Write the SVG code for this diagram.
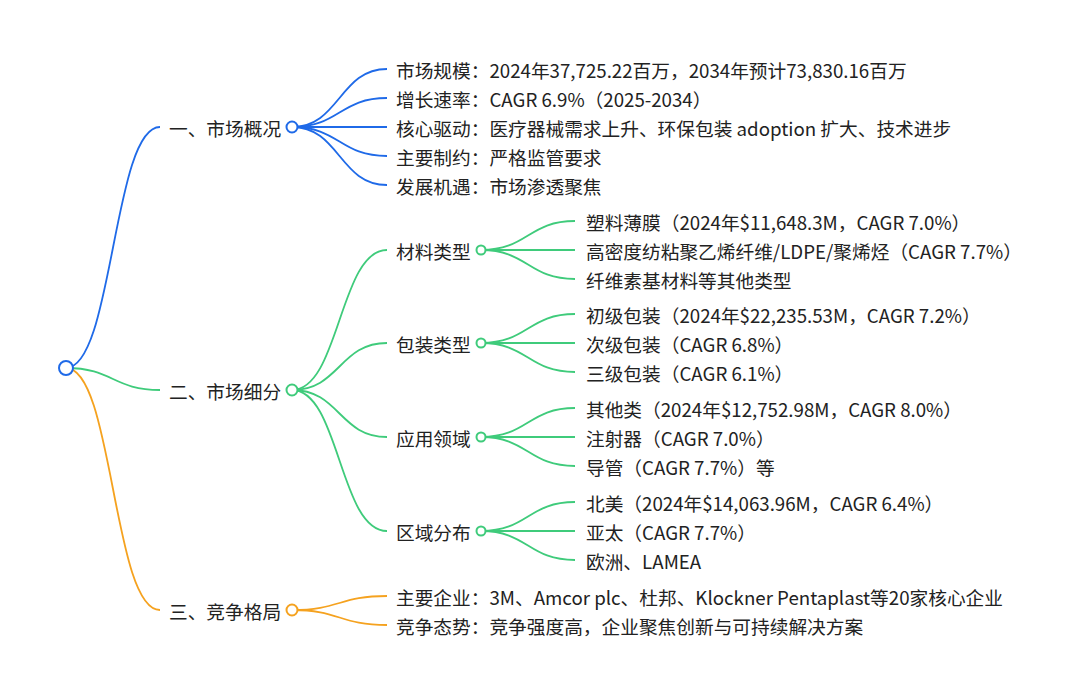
<svg xmlns="http://www.w3.org/2000/svg" width="1080" height="692" viewBox="0 0 1080 692">
<style>
text{font-family:"Noto Sans CJK SC","Noto Sans",sans-serif;font-size:18.7px;fill:#222;dominant-baseline:central}
.l{fill:none;stroke-width:1.8}
.b{stroke:#1f6ae8}
.g{stroke:#3fcb7b}
.o{stroke:#f5a21f}
circle{fill:#fff;stroke-width:2}
</style>
<rect width="1080" height="692" fill="#fff"/>
<g id="connectors">
<path class="l b" d="M66 368C113 368 113 127 160 127"/>
<path class="l g" d="M66 368C113 368 113 390 160 390"/>
<path class="l o" d="M66 368C113 368 113 610 160 610"/>
<path class="l b" d="M292 127C339.5 127 339.5 69 387 69"/>
<path class="l b" d="M292 127C339.5 127 339.5 98 387 98"/>
<path class="l b" d="M292 127C339.5 127 339.5 127 387 127"/>
<path class="l b" d="M292 127C339.5 127 339.5 156 387 156"/>
<path class="l b" d="M292 127C339.5 127 339.5 185 387 185"/>
<path class="l g" d="M292 390C339.5 390 339.5 250 387 250"/>
<path class="l g" d="M292 390C339.5 390 339.5 343 387 343"/>
<path class="l g" d="M292 390C339.5 390 339.5 437 387 437"/>
<path class="l g" d="M292 390C339.5 390 339.5 531 387 531"/>
<path class="l o" d="M292 610C339.5 610 339.5 596 387 596"/>
<path class="l o" d="M292 610C339.5 610 339.5 625 387 625"/>
<path class="l g" d="M481 250C528 250 528 221 575 221"/>
<path class="l g" d="M481 250C528 250 528 250 575 250"/>
<path class="l g" d="M481 250C528 250 528 279 575 279"/>
<path class="l g" d="M481 343C528 343 528 314 575 314"/>
<path class="l g" d="M481 343C528 343 528 343 575 343"/>
<path class="l g" d="M481 343C528 343 528 372 575 372"/>
<path class="l g" d="M481 437C528 437 528 408 575 408"/>
<path class="l g" d="M481 437C528 437 528 437 575 437"/>
<path class="l g" d="M481 437C528 437 528 466 575 466"/>
<path class="l g" d="M481 531C528 531 528 502 575 502"/>
<path class="l g" d="M481 531C528 531 528 531 575 531"/>
<path class="l g" d="M481 531C528 531 528 560 575 560"/>
</g>
<g id="root"><circle cx="66" cy="368" r="7" stroke="#1f6ae8"/></g>
<g id="n1"><text x="169" y="127">一、市场概况</text><circle cx="292" cy="127" r="5.5" stroke="#1f6ae8"/></g>
<g id="n1-1"><text x="396" y="69">市场规模：2024年37,725.22百万，2034年预计73,830.16百万</text></g>
<g id="n1-2"><text x="396" y="98">增长速率：CAGR 6.9%（2025-2034）</text></g>
<g id="n1-3"><text x="396" y="127">核心驱动：医疗器械需求上升、环保包装 adoption 扩大、技术进步</text></g>
<g id="n1-4"><text x="396" y="156">主要制约：严格监管要求</text></g>
<g id="n1-5"><text x="396" y="185">发展机遇：市场渗透聚焦</text></g>
<g id="n2"><text x="169" y="390">二、市场细分</text><circle cx="292" cy="390" r="5.5" stroke="#3fcb7b"/></g>
<g id="n2-1"><text x="396" y="250">材料类型</text><circle cx="481" cy="250" r="4.5" stroke="#3fcb7b"/></g>
<g id="n2-1-1"><text x="586" y="221">塑料薄膜（2024年$11,648.3M，CAGR 7.0%）</text></g>
<g id="n2-1-2"><text x="586" y="250">高密度纺粘聚乙烯纤维/LDPE/聚烯烃（CAGR 7.7%）</text></g>
<g id="n2-1-3"><text x="586" y="279">纤维素基材料等其他类型</text></g>
<g id="n2-2"><text x="396" y="343">包装类型</text><circle cx="481" cy="343" r="4.5" stroke="#3fcb7b"/></g>
<g id="n2-2-1"><text x="586" y="314">初级包装（2024年$22,235.53M，CAGR 7.2%）</text></g>
<g id="n2-2-2"><text x="586" y="343">次级包装（CAGR 6.8%）</text></g>
<g id="n2-2-3"><text x="586" y="372">三级包装（CAGR 6.1%）</text></g>
<g id="n2-3"><text x="396" y="437">应用领域</text><circle cx="481" cy="437" r="4.5" stroke="#3fcb7b"/></g>
<g id="n2-3-1"><text x="586" y="408">其他类（2024年$12,752.98M，CAGR 8.0%）</text></g>
<g id="n2-3-2"><text x="586" y="437">注射器（CAGR 7.0%）</text></g>
<g id="n2-3-3"><text x="586" y="466">导管（CAGR 7.7%）等</text></g>
<g id="n2-4"><text x="396" y="531">区域分布</text><circle cx="481" cy="531" r="4.5" stroke="#3fcb7b"/></g>
<g id="n2-4-1"><text x="586" y="502">北美（2024年$14,063.96M，CAGR 6.4%）</text></g>
<g id="n2-4-2"><text x="586" y="531">亚太（CAGR 7.7%）</text></g>
<g id="n2-4-3"><text x="586" y="560">欧洲、LAMEA</text></g>
<g id="n3"><text x="169" y="610">三、竞争格局</text><circle cx="292" cy="610" r="5.5" stroke="#f5a21f"/></g>
<g id="n3-1"><text x="396" y="596">主要企业：3M、Amcor plc、杜邦、Klockner Pentaplast等20家核心企业</text></g>
<g id="n3-2"><text x="396" y="625">竞争态势：竞争强度高，企业聚焦创新与可持续解决方案</text></g>
</svg>
